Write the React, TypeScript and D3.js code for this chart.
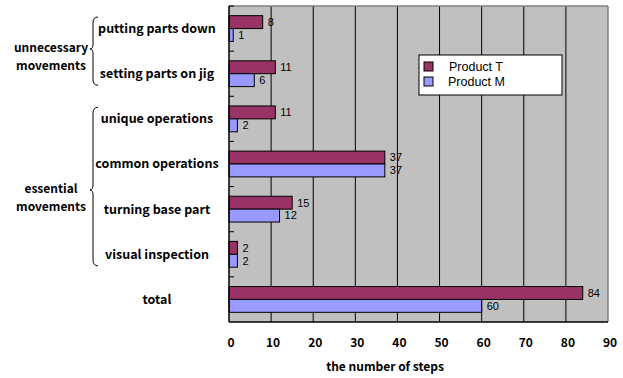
import React from "react";
import * as d3 from "d3";

// Step counts per movement type, compared for two products
const categories = [
  "putting parts down",
  "setting parts on jig",
  "unique operations",
  "common operations",
  "turning base part",
  "visual inspection",
  "total",
];
const productT = [8, 11, 11, 37, 15, 2, 84];
const productM = [1, 6, 2, 37, 12, 2, 60];
const seriesNames = ["Product T", "Product M"];
const seriesColors = ["#993366", "#9999FF"];
const xTicks = [0, 10, 20, 30, 40, 50, 60, 70, 80, 90];

// Category groups shown with curly braces on the left
const groups = [
  { lines: ["unnecessary", "movements"], from: 0, to: 1 },
  { lines: ["essential", "movements"], from: 2, to: 5 },
];

const W = 623;
const H = 378;
const FONT = "'Noto Sans CJK JP', 'Noto Sans', sans-serif";
const NUM_FONT = "'Liberation Sans', Arial, sans-serif";

export default function App() {
  const left = 229;
  const right = 608;
  const top = 6;
  const bottom = 322;

  const x = d3.scaleLinear().domain([0, 90]).range([left, right]);
  const y = d3
    .scaleBand<string>()
    .domain(categories)
    .range([top, bottom])
    .paddingInner(0)
    .paddingOuter(0);
  const band = y.bandwidth();
  const barH = band / 3.5;
  const groupOffset = (band - 2 * barH) / 2;

  const series = [productT, productM];

  // Curly brace path: opens to the right, point on the left
  const brace = (xr: number, y0: number, y1: number, ym: number) => {
    const xm = xr - 3;
    const xp = xr - 6;
    return (
      `M${xr + 2},${y0} Q${xm},${y0} ${xm},${y0 + 6} ` +
      `L${xm},${ym - 5} Q${xm},${ym} ${xp},${ym} ` +
      `Q${xm},${ym} ${xm},${ym + 5} ` +
      `L${xm},${y1 - 6} Q${xm},${y1} ${xr + 2},${y1}`
    );
  };

  const labelCx = 157;

  return (
    <svg
      width={W}
      height={H}
      style={{ position: "absolute", left: 0, top: 0, background: "#fff" }}
      fontFamily={FONT}
    >
      {/* plot background */}
      <rect x={left} y={top} width={right - left} height={bottom - top} fill="#C0C0C0" />
      {/* vertical gridlines */}
      {xTicks.slice(1, -1).map((t) => (
        <line key={t} x1={x(t)} x2={x(t)} y1={top} y2={bottom} stroke="#000" strokeWidth={1} />
      ))}
      {/* plot border */}
      <line x1={left} x2={right} y1={top} y2={top} stroke="#808080" strokeWidth={1.5} />
      <line x1={right} x2={right} y1={top} y2={bottom} stroke="#808080" strokeWidth={1.5} />

      {/* bars */}
      {categories.map((c, i) =>
        series.map((s, k) => {
          const by = (y(c) as number) + groupOffset + k * barH;
          return (
            <g key={c + k}>
              <rect
                x={x(0)}
                y={by}
                width={x(s[i]) - x(0)}
                height={barH}
                fill={seriesColors[k]}
                stroke="#000"
                strokeWidth={1}
              />
              <text
                x={x(s[i]) + 5}
                y={by + barH / 2}
                dy="0.35em"
                fontSize={11}
                fontFamily={NUM_FONT}
                fill="#000"
              >
                {s[i]}
              </text>
            </g>
          );
        })
      )}

      {/* axes */}
      <line x1={left} x2={left} y1={top} y2={bottom} stroke="#000" strokeWidth={1.5} />
      <line x1={left} x2={right} y1={bottom} y2={bottom} stroke="#000" strokeWidth={1.5} />
      {categories.map((c) => (
        <line
          key={"t" + c}
          x1={left}
          x2={left + 5}
          y1={y(c) as number}
          y2={y(c) as number}
          stroke="#000"
          strokeWidth={1}
        />
      ))}
      {xTicks.map((t) => (
        <text
          key={"x" + t}
          x={x(t) + 2}
          y={343}
          dy="0.35em"
          textAnchor="middle"
          fontSize={12}
          fontWeight="bold"
          fill="#000"
        >
          {t}
        </text>
      ))}
      <text
        x={385}
        y={367}
        dy="0.35em"
        textAnchor="middle"
        fontSize={12}
        fontWeight="bold"
        fill="#000"
      >
        the number of steps
      </text>

      {/* category labels */}
      {categories.map((c) => (
        <text
          key={"c" + c}
          x={labelCx}
          y={(y(c) as number) + band / 2}
          dy="0.35em"
          textAnchor="middle"
          fontSize={12.5}
          fontWeight="bold"
          fill="#000"
        >
          {c}
        </text>
      ))}

      {/* group braces and labels */}
      {groups.map((g, gi) => {
        const y0 = (y(categories[g.from]) as number) + 11;
        const y1 = (y(categories[g.to]) as number) + band - 11;
        const ym = gi === 0 ? 49 : 190;
        return (
          <g key={"g" + gi}>
            <path d={brace(96, y0, y1, ym)} fill="none" stroke="#000" strokeWidth={1} />
            {g.lines.map((l, li) => (
              <text
                key={l}
                x={51}
                y={ym - 1 + li * 18}
                dy="0.35em"
                textAnchor="middle"
                fontSize={12}
                fontWeight="bold"
                fill="#000"
              >
                {l}
              </text>
            ))}
          </g>
        );
      })}

      {/* legend */}
      <g>
        <rect x={419} y={55} width={143} height={40} fill="#fff" stroke="#000" strokeWidth={1} />
        {seriesNames.map((n, k) => (
          <g key={n}>
            <rect
              x={424}
              y={62 + k * 15}
              width={9}
              height={9}
              fill={seriesColors[k]}
              stroke="#000"
              strokeWidth={1}
            />
            <text
              x={449 - k * 1}
              y={67 + k * 15}
              dy="0.35em"
              fontSize={12.5}
              fontFamily={NUM_FONT}
              fill="#000"
            >
              {n}
            </text>
          </g>
        ))}
      </g>
    </svg>
  );
}
